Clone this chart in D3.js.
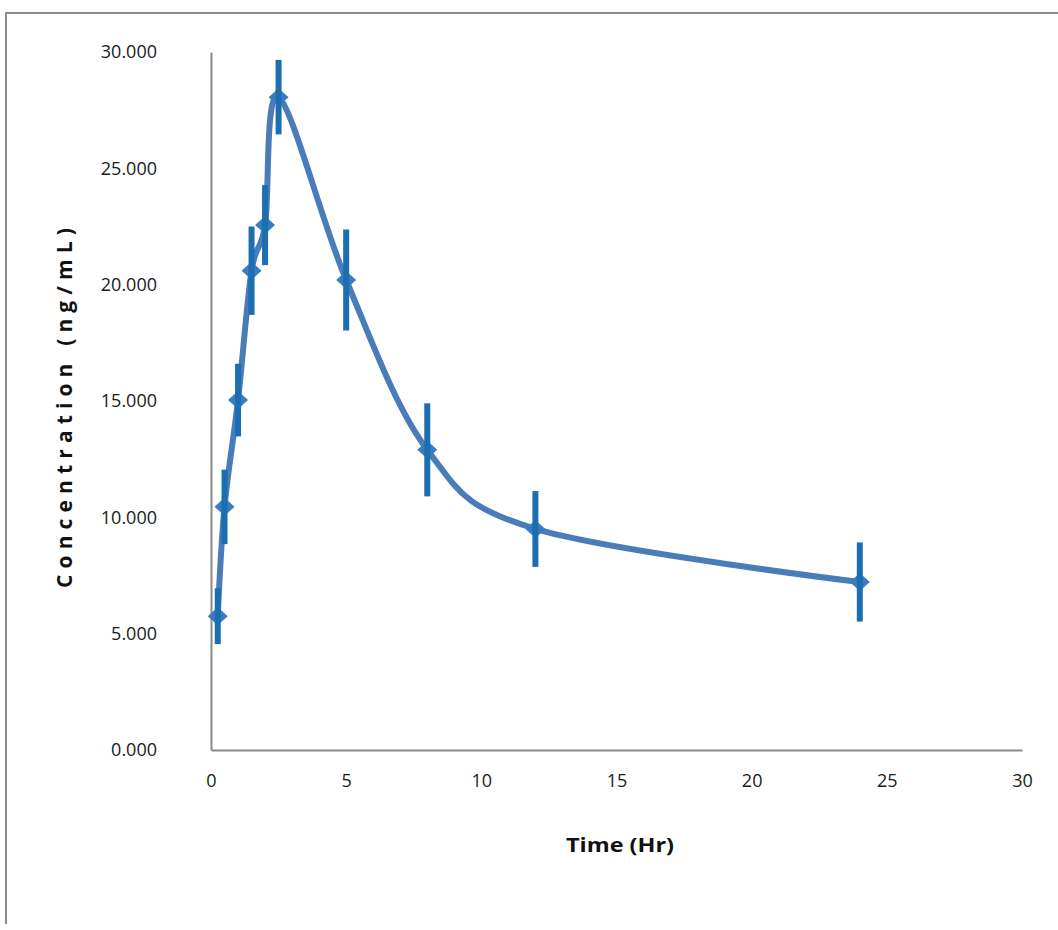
<!DOCTYPE html>
<html><head><meta charset="utf-8">
<script src="https://cdn.jsdelivr.net/npm/d3@7"></script>
<style>
html,body{margin:0;padding:0;background:#fff;}
svg{display:block;}
</style></head>
<body>
<svg id="chart" width="1058" height="930"></svg>
<script>
// Data
const times = [0.25, 0.5, 1, 1.5, 2, 2.5, 5, 8, 12, 24];
const concentration = [5.75, 10.45, 15.04, 20.6, 22.56, 28.06, 20.2, 12.9, 9.5, 7.22];
const sdError = [1.2, 1.6, 1.56, 1.9, 1.72, 1.6, 2.17, 2.0, 1.63, 1.7];
const xTicks = [0, 5, 10, 15, 20, 25, 30];
const yTicks = [0, 5, 10, 15, 20, 25, 30];
const xTitle = "Time (Hr)";
const yTitle = "Concentration (ng/mL)";

const svg = d3.select("#chart");
const font = "'Open Sans', 'Liberation Sans', sans-serif";

// outer frame
svg.append("path").attr("d","M6,924 L6,13 L1058,13")
  .attr("fill","none").attr("stroke","#8c8c8c").attr("stroke-width",2);

const x = d3.scaleLinear().domain([0,30]).range([211,1022]);
const y = d3.scaleLinear().domain([0,30]).range([750,52]);

// axes
const gx = svg.append("g").attr("transform","translate(0,750)")
  .call(d3.axisBottom(x).tickValues(xTicks).tickSize(0).tickPadding(24).tickFormat(d3.format("d")));
const gy = svg.append("g").attr("transform","translate(211,0)")
  .call(d3.axisLeft(y).tickValues(yTicks).tickSize(0).tickPadding(54).tickFormat(d3.format(".3f")));
[gx,gy].forEach(g=>{
  g.select(".domain").attr("stroke","#8a8a8a").attr("stroke-width",2);
  g.selectAll("text").attr("font-family",font).attr("font-size",18).attr("fill","#1a1a1a");
});

// axis titles
svg.append("text").text(xTitle).attr("x",620).attr("y",852)
  .attr("text-anchor","middle").attr("font-family",font).attr("font-weight","bold")
  .attr("font-size",20).attr("fill","#111")
  .attr("textLength",108).attr("lengthAdjust","spacingAndGlyphs");
svg.append("text").text(yTitle)
  .attr("transform","translate(72,408) rotate(-90)")
  .attr("text-anchor","middle").attr("font-family",font).attr("font-weight","bold")
  .attr("font-size",21).attr("fill","#111")
  .attr("textLength",360).attr("lengthAdjust","spacing");

const pts = times.map((t,i)=>({t, c: concentration[i], e: sdError[i]}));

// smoothed line
const line = d3.line().x(d=>x(d.t)).y(d=>y(d.c)).curve(d3.curveCardinal.tension(0));
svg.append("path").datum(pts).attr("d",line)
  .attr("fill","none").attr("stroke","#4a7cba").attr("stroke-width",6)
  .attr("stroke-linejoin","round");

// markers (diamonds)
svg.append("g").selectAll("path").data(pts).join("path")
  .attr("transform",d=>`translate(${x(d.t)},${y(d.c)})`)
  .attr("d","M0,-9 L10,0 L0,9 L-10,0 Z")
  .attr("fill","#3b7cc0");

// error bars
svg.append("g").selectAll("line").data(pts).join("line")
  .attr("x1",d=>x(d.t)).attr("x2",d=>x(d.t))
  .attr("y1",d=>y(d.c+d.e)).attr("y2",d=>y(d.c-d.e))
  .attr("stroke","#1b6fb0").attr("stroke-width",6);
</script>
</body></html>
